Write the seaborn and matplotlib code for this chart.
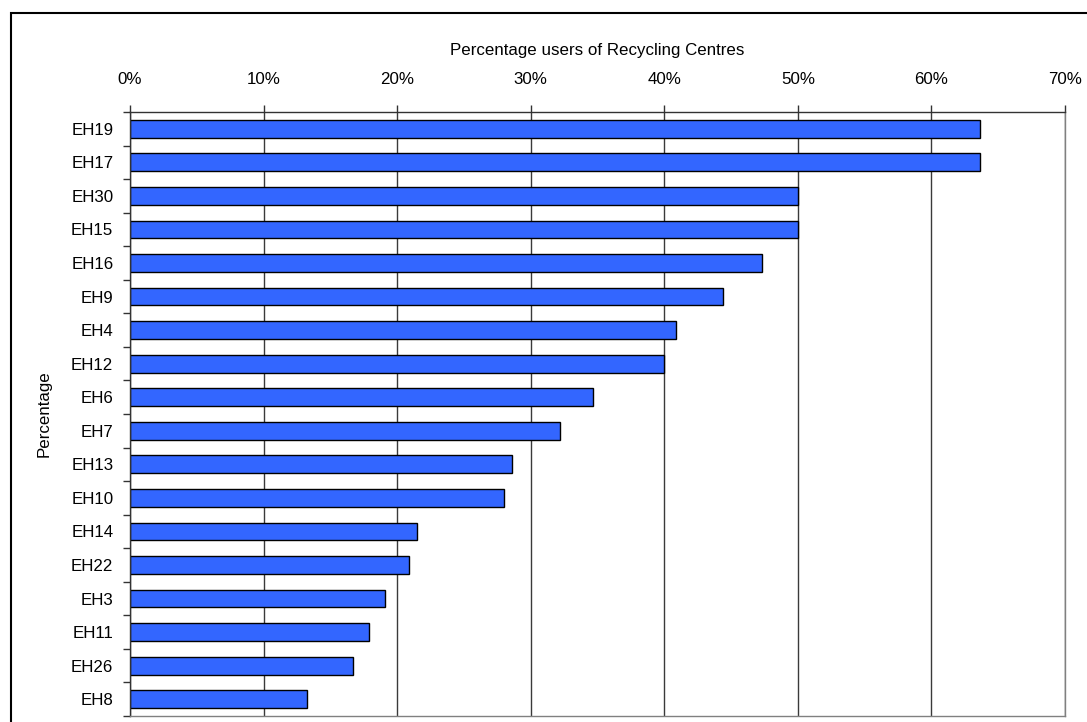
import numpy as np
import pandas as pd
import matplotlib
matplotlib.use("Agg")
import matplotlib.pyplot as plt
from matplotlib.patches import Rectangle
from matplotlib.ticker import PercentFormatter, FixedLocator, MultipleLocator
import seaborn as sns

areas = ["EH19", "EH17", "EH30", "EH15", "EH16", "EH9", "EH4", "EH12", "EH6",
         "EH7", "EH13", "EH10", "EH14", "EH22", "EH3", "EH11", "EH26", "EH8"]
percent_users = [63.6, 63.6, 50.0, 50.0, 47.3, 44.4, 40.9, 40.0, 34.7,
                 32.2, 28.6, 28.0, 21.5, 20.9, 19.1, 17.9, 16.7, 13.25]
x_title = "Percentage users of Recycling Centres"
y_title = "Percentage"

df = pd.DataFrame({"area": areas, "pct": percent_users})

sns.set_style("white")
plt.rcParams["font.family"] = ["Liberation Sans", "DejaVu Sans"]
plt.rcParams["text.color"] = "black"
plt.rcParams["axes.labelcolor"] = "black"

FS = 12.2

fig = plt.figure(figsize=(10.87, 7.22), dpi=100)
ax = fig.add_axes([130 / 1087, 1 - 716 / 722, (1065 - 130) / 1087, (716 - 112) / 722])

sns.barplot(data=df, x="pct", y="area", orient="h", color="#3366FF",
            saturation=1, edgecolor="black", linewidth=1.0, width=0.53, ax=ax)

ax.set_xlim(0, 70)
ax.set_ylim(len(areas) - 0.5, -0.5)
ax.xaxis.set_major_locator(MultipleLocator(10))
ax.xaxis.set_major_formatter(PercentFormatter(100, decimals=0))
ax.xaxis.tick_top()
ax.xaxis.set_label_position("top")
ax.tick_params(axis="x", which="major", direction="out", length=5, width=1,
               color="#333333", pad=13, labelsize=FS, labelcolor="black",
               top=True, bottom=False)
ax.yaxis.set_minor_locator(FixedLocator(np.arange(-0.5, len(areas), 1)))
ax.tick_params(axis="y", which="major", length=0, pad=12, labelsize=FS,
               labelcolor="black", left=True)
ax.tick_params(axis="y", which="minor", direction="out", length=5, width=1,
               color="#333333", left=True)

ax.set_xlabel(x_title, fontsize=FS, labelpad=12, color="black")
ax.set_ylabel(y_title, fontsize=FS, labelpad=14, color="black")

ax.set_axisbelow(True)
ax.xaxis.grid(True, color="#3a3a3a", linewidth=1)
ax.yaxis.grid(False)

for side in ["top", "left"]:
    ax.spines[side].set_visible(True)
    ax.spines[side].set_color("#333333")
    ax.spines[side].set_linewidth(1)
for side in ["right", "bottom"]:
    ax.spines[side].set_visible(True)
    ax.spines[side].set_color("#808080")
    ax.spines[side].set_linewidth(1)

# outer chart-area border
fig.patches.append(Rectangle((11 / 1087, -0.2), 1.3, (722 - 13) / 722 + 0.2,
                             transform=fig.transFigure, fill=False,
                             edgecolor="black", linewidth=1.5, zorder=0))

fig.savefig("out.png", dpi=100)
